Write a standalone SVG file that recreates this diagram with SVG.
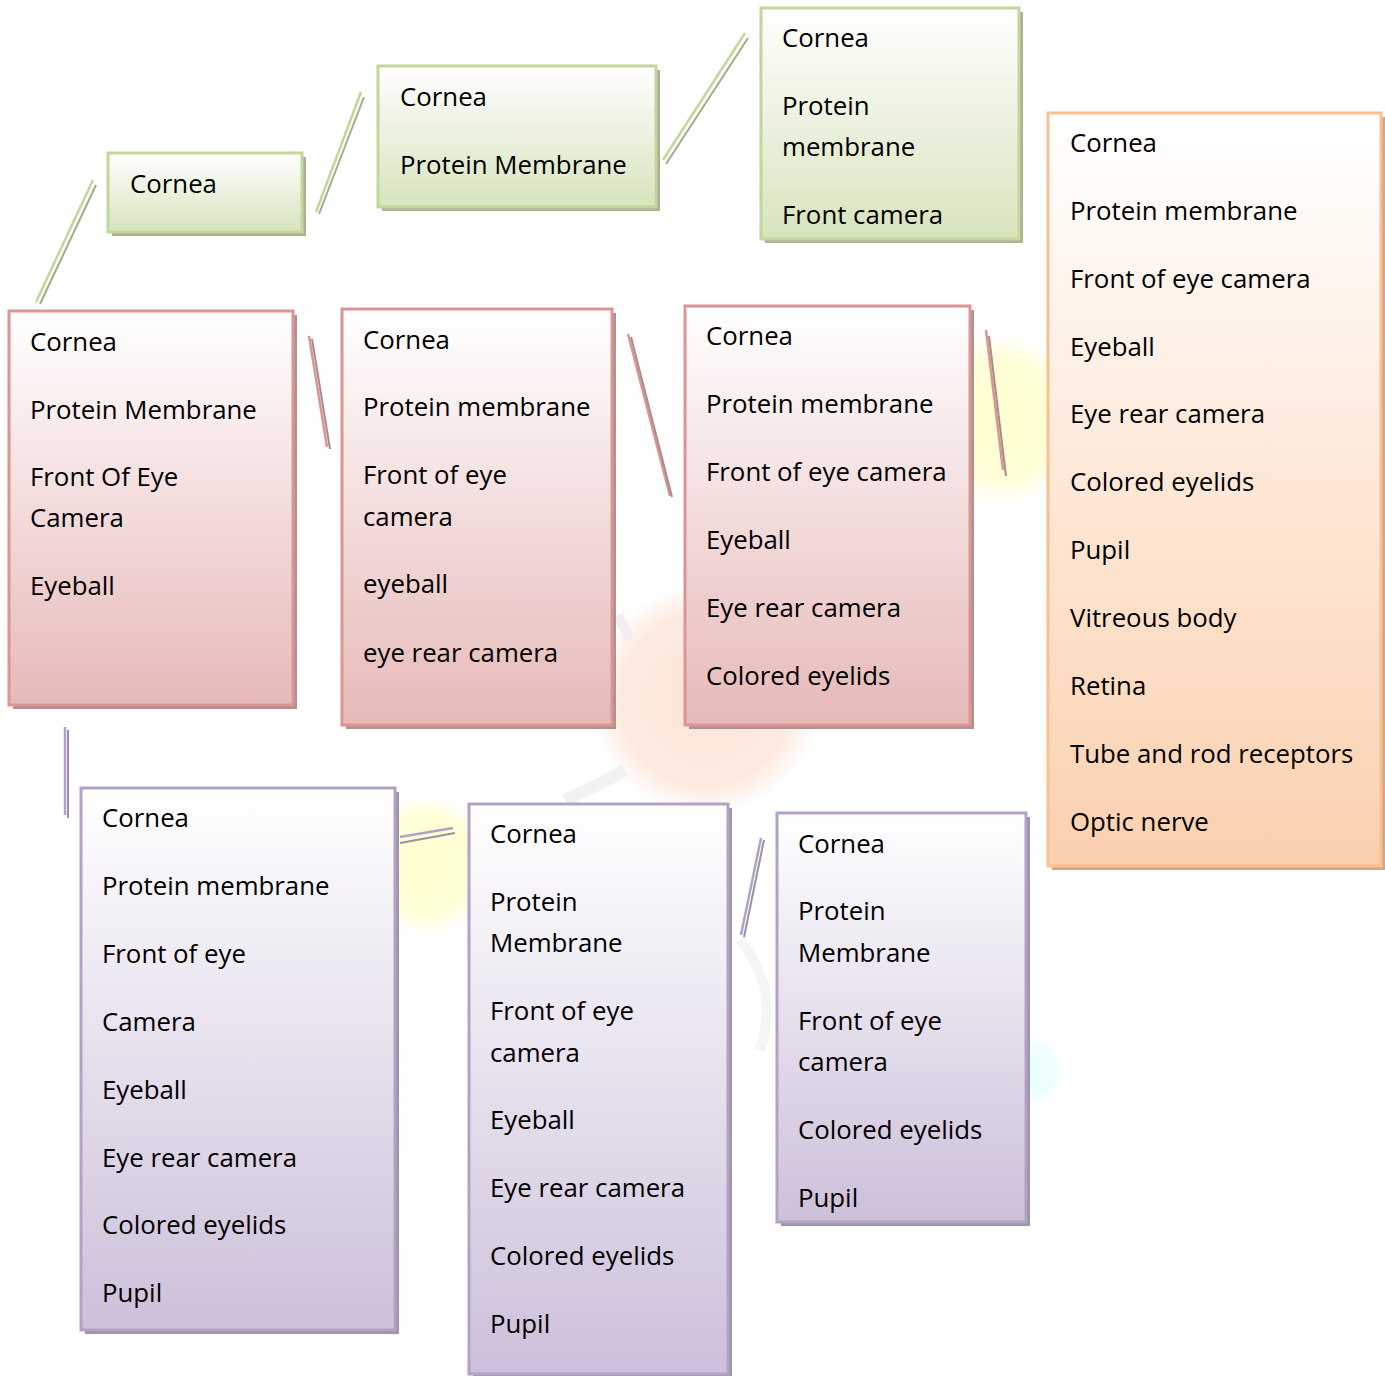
<svg xmlns="http://www.w3.org/2000/svg" width="1385" height="1376" viewBox="0 0 1385 1376">
<defs>
<linearGradient id="gG" x1="0" y1="0" x2="0" y2="1"><stop offset="0" stop-color="#ffffff"/><stop offset="1" stop-color="#d7e4bd"/></linearGradient>
<linearGradient id="gR" x1="0" y1="0" x2="0" y2="1"><stop offset="0" stop-color="#ffffff"/><stop offset="1" stop-color="#e6b9b8"/></linearGradient>
<linearGradient id="gO" x1="0" y1="0" x2="0" y2="1"><stop offset="0" stop-color="#ffffff"/><stop offset="1" stop-color="#fbd0ae"/></linearGradient>
<linearGradient id="gP" x1="0" y1="0" x2="0" y2="1"><stop offset="0" stop-color="#ffffff"/><stop offset="1" stop-color="#ccc0da"/></linearGradient>
<radialGradient id="wY"><stop offset="0" stop-color="#ffffc8" stop-opacity="0.9"/><stop offset="0.7" stop-color="#ffffc8" stop-opacity="0.7"/><stop offset="1" stop-color="#ffffc8" stop-opacity="0"/></radialGradient>
<radialGradient id="wO"><stop offset="0" stop-color="#fde2d2" stop-opacity="0.9"/><stop offset="0.75" stop-color="#fde2d2" stop-opacity="0.7"/><stop offset="1" stop-color="#fde2d2" stop-opacity="0"/></radialGradient>
<radialGradient id="wC"><stop offset="0" stop-color="#e6ffff" stop-opacity="0.9"/><stop offset="0.7" stop-color="#e6ffff" stop-opacity="0.7"/><stop offset="1" stop-color="#e6ffff" stop-opacity="0"/></radialGradient>
</defs>
<style>
text{font-family:"Open Sans","Noto Sans","Liberation Sans",sans-serif;font-size:25.8px;fill:#000}
.bg{stroke-width:3}
.g{fill:url(#gG);stroke:#c3d69b}
.r{fill:url(#gR);stroke:#d99694}
.o{fill:url(#gO);stroke:#fac090}
.p{fill:url(#gP);stroke:#b3a2c7}
.gs{fill:#a8b394}
.rs{fill:#b39090}
.os{fill:#c9a88e}
.ps{fill:#9d95a8}
.cg{stroke:#c3d69b;stroke-width:2.5}
.cgs{stroke:#9fae8a;stroke-width:2}
.cr{stroke:#d99694;stroke-width:2.5}
.crs{stroke:#a88a8a;stroke-width:2}
.cp{stroke:#b3a2c7;stroke-width:2.5}
.cps{stroke:#9a92a4;stroke-width:2}
</style>
<rect width="1385" height="1376" fill="#ffffff"/>
<g id="watermark">
<circle cx="1000" cy="420" r="85" fill="url(#wY)"/>
<circle cx="705" cy="700" r="115" fill="url(#wO)"/>
<circle cx="425" cy="865" r="70" fill="url(#wY)"/>
<circle cx="1030" cy="1070" r="35" fill="url(#wC)"/>
<path d="M565 800 Q600 785 625 770" stroke="#f2f2f2" stroke-width="12" fill="none"/>
<path d="M618 615 Q625 630 630 640" stroke="#f0f0f0" stroke-width="10" fill="none"/>
<path d="M740 940 Q780 990 760 1050" stroke="#f5f5f5" stroke-width="10" fill="none"/>
</g>
<g id="connectors" fill="none">
<line x1="36" y1="302" x2="93" y2="180" class="cg"/><line x1="40" y1="304" x2="96" y2="185" class="cgs"/>
<line x1="316" y1="212" x2="361" y2="92" class="cg"/><line x1="319" y1="214" x2="364" y2="97" class="cgs"/>
<line x1="663" y1="160" x2="745" y2="33" class="cg"/><line x1="666" y1="164" x2="748" y2="38" class="cgs"/>
<line x1="309" y1="336" x2="327" y2="447" class="cr"/><line x1="312" y1="339" x2="330" y2="449" class="crs"/>
<line x1="628" y1="334" x2="670" y2="496" class="cr"/><line x1="631" y1="337" x2="672" y2="497" class="crs"/>
<line x1="986" y1="330" x2="1003" y2="470" class="cr"/><line x1="989" y1="336" x2="1006" y2="476" class="crs"/>
<line x1="65" y1="727" x2="65" y2="815" class="cp"/><line x1="68" y1="730" x2="68" y2="818" class="cps"/>
<line x1="400" y1="837" x2="453" y2="828" class="cp"/><line x1="400" y1="843" x2="455" y2="833" class="cps"/>
<line x1="761" y1="838" x2="741" y2="935" class="cp"/><line x1="764" y1="840" x2="744" y2="937" class="cps"/>
</g>
<g id="g1">
<rect x="112" y="157" width="194" height="79" class="gs"/>
<rect x="108" y="153" width="194" height="79" class="g bg"/>
<text x="130" y="193">Cornea</text>
</g>
<g id="g2">
<rect x="382" y="70" width="278" height="141" class="gs"/>
<rect x="378" y="66" width="278" height="141" class="g bg"/>
<text x="400" y="106">Cornea</text>
<text x="400" y="174">Protein Membrane</text>
</g>
<g id="g3">
<rect x="765" y="12" width="258" height="231" class="gs"/>
<rect x="761" y="8" width="258" height="231" class="g bg"/>
<text x="782" y="47">Cornea</text>
<text x="782" y="115">Protein</text>
<text x="782" y="156">membrane</text>
<text x="782" y="224">Front camera</text>
</g>
<g id="r1">
<rect x="13" y="315" width="284" height="394" class="rs"/>
<rect x="9" y="311" width="284" height="394" class="r bg"/>
<text x="30" y="351">Cornea</text>
<text x="30" y="419">Protein Membrane</text>
<text x="30" y="486">Front Of Eye</text>
<text x="30" y="527">Camera</text>
<text x="30" y="595">Eyeball</text>
</g>
<g id="r2">
<rect x="346" y="313" width="270" height="416" class="rs"/>
<rect x="342" y="309" width="270" height="416" class="r bg"/>
<text x="363" y="349">Cornea</text>
<text x="363" y="416">Protein membrane</text>
<text x="363" y="484">Front of eye</text>
<text x="363" y="526">camera</text>
<text x="363" y="593">eyeball</text>
<text x="363" y="662">eye rear camera</text>
</g>
<g id="r3">
<rect x="689" y="310" width="285" height="419" class="rs"/>
<rect x="685" y="306" width="285" height="419" class="r bg"/>
<text x="706" y="345">Cornea</text>
<text x="706" y="413">Protein membrane</text>
<text x="706" y="481">Front of eye camera</text>
<text x="706" y="549">Eyeball</text>
<text x="706" y="617">Eye rear camera</text>
<text x="706" y="685">Colored eyelids</text>
</g>
<g id="o1">
<rect x="1052" y="117" width="333" height="753" class="os"/>
<rect x="1048" y="113" width="333" height="753" class="o bg"/>
<text x="1070" y="152">Cornea</text>
<text x="1070" y="220">Protein membrane</text>
<text x="1070" y="288">Front of eye camera</text>
<text x="1070" y="356">Eyeball</text>
<text x="1070" y="423">Eye rear camera</text>
<text x="1070" y="491">Colored eyelids</text>
<text x="1070" y="559">Pupil</text>
<text x="1070" y="627">Vitreous body</text>
<text x="1070" y="695">Retina</text>
<text x="1070" y="763">Tube and rod receptors</text>
<text x="1070" y="831">Optic nerve</text>
</g>
<g id="p1">
<rect x="85" y="792" width="314" height="542" class="ps"/>
<rect x="81" y="788" width="314" height="542" class="p bg"/>
<text x="102" y="827">Cornea</text>
<text x="102" y="895">Protein membrane</text>
<text x="102" y="963">Front of eye</text>
<text x="102" y="1031">Camera</text>
<text x="102" y="1099">Eyeball</text>
<text x="102" y="1167">Eye rear camera</text>
<text x="102" y="1234">Colored eyelids</text>
<text x="102" y="1302">Pupil</text>
</g>
<g id="p2">
<rect x="473" y="808" width="259" height="570" class="ps"/>
<rect x="469" y="804" width="259" height="570" class="p bg"/>
<text x="490" y="843">Cornea</text>
<text x="490" y="911">Protein</text>
<text x="490" y="952">Membrane</text>
<text x="490" y="1020">Front of eye</text>
<text x="490" y="1062">camera</text>
<text x="490" y="1129">Eyeball</text>
<text x="490" y="1197">Eye rear camera</text>
<text x="490" y="1265">Colored eyelids</text>
<text x="490" y="1333">Pupil</text>
</g>
<g id="p3">
<rect x="781" y="817" width="249" height="409" class="ps"/>
<rect x="777" y="813" width="249" height="409" class="p bg"/>
<text x="798" y="853">Cornea</text>
<text x="798" y="920">Protein</text>
<text x="798" y="962">Membrane</text>
<text x="798" y="1030">Front of eye</text>
<text x="798" y="1071">camera</text>
<text x="798" y="1139">Colored eyelids</text>
<text x="798" y="1207">Pupil</text>
</g>
</svg>
